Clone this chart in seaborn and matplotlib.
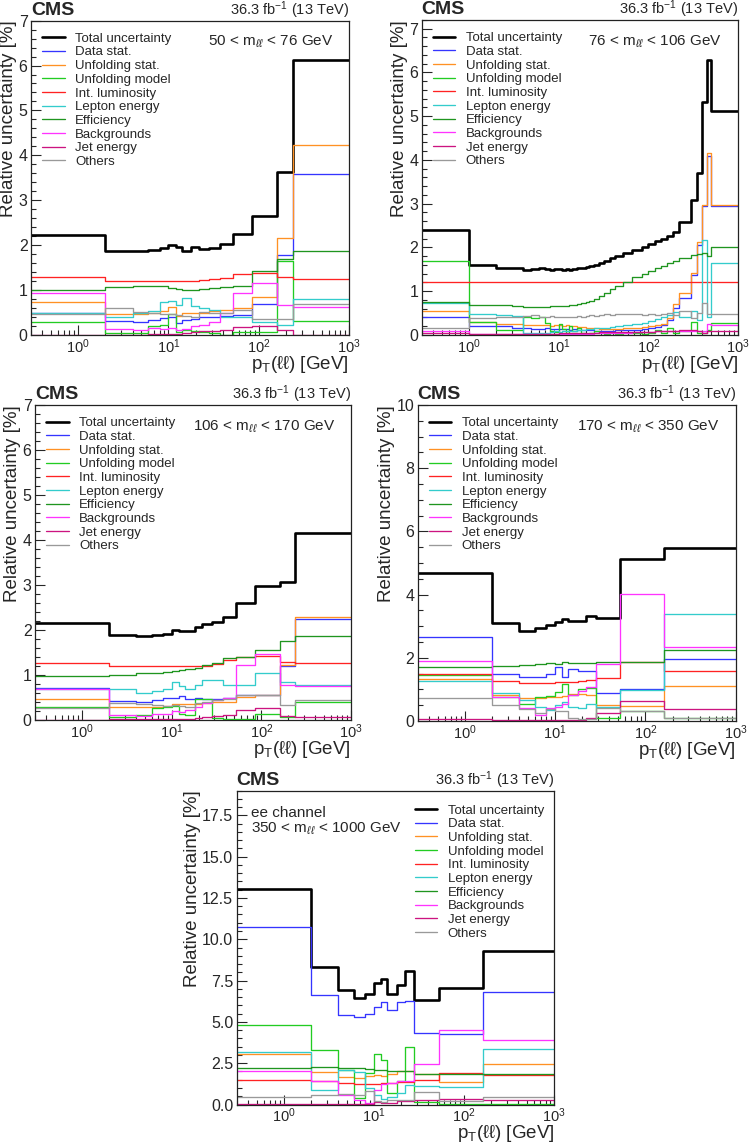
import matplotlib
matplotlib.use("Agg")
import matplotlib.pyplot as plt
import matplotlib.ticker as mticker
import seaborn as sns

sns.set_theme(style="ticks")
plt.rcParams["font.family"] = ["Liberation Sans", "DejaVu Sans"]
plt.rcParams["mathtext.fontset"] = "custom"
plt.rcParams["mathtext.rm"] = "Liberation Sans"
plt.rcParams["mathtext.it"] = "Liberation Sans:italic"
plt.rcParams["mathtext.bf"] = "Liberation Sans:bold"

sources = ["Total uncertainty", "Data stat.", "Unfolding stat.", "Unfolding model",
           "Int. luminosity", "Lepton energy", "Efficiency", "Backgrounds",
           "Jet energy", "Others"]
colors = ["black", "#3535ff", "#ff9124", "#22cc22", "#ff2222", "#33cccc",
          "#1f951f", "#ff33ff", "#cc1480", "#999999"]

# --- 50 < mll < 76 GeV ---
edges_1 = [0, 2, 4, 6, 8, 10, 12, 14, 18, 22, 28, 37, 52, 85, 160, 240, 1000]
total_1 = [2.23, 1.86, 1.87, 1.90, 1.93, 2.00, 1.97, 1.86, 1.97, 1.91, 1.93, 2.03, 2.24, 2.65, 3.62, 6.12]
stat_1 = [0.50, 0.32, 0.30, 0.33, 0.37, 0.41, 0.27, 0.33, 0.35, 0.39, 0.41, 0.42, 0.45, 0.69, 1.78, 3.58]
ustat_1 = [0.73, 0.46, 0.46, 0.48, 0.53, 0.62, 0.43, 0.48, 0.50, 0.50, 0.53, 0.55, 0.59, 0.84, 2.15, 4.22]
umodel_1 = [0.30, 0.04, 0.04, 0.20, 0.22, 0.46, 0.06, 0.11, 0.09, 0.06, 0.04, 0.01, 0.07, 0.06, 1.65, 0.31]
lumi_1 = [1.30, 1.20, 1.20, 1.20, 1.20, 1.20, 1.20, 1.20, 1.21, 1.22, 1.25, 1.27, 1.35, 1.39, 1.29, 1.25]
lepton_1 = [0.48, 0.41, 0.48, 0.53, 0.73, 0.76, 0.67, 0.82, 0.65, 0.59, 0.56, 0.41, 0.40, 0.30, 0.22, 0.80]
eff_1 = [1.01, 1.06, 1.08, 1.10, 1.08, 1.05, 1.03, 1.01, 1.00, 1.03, 1.05, 1.07, 1.10, 1.43, 1.69, 1.88]
bkg_1 = [0.93, 0.13, 0.12, 0.15, 0.14, 0.16, 0.12, 0.14, 0.19, 0.22, 0.30, 0.48, 0.93, 1.15, 0.67, 0.63]
jet_1 = [0.01, 0.01, 0.01, 0.02, 0.02, 0.03, 0.03, 0.04, 0.06, 0.08, 0.09, 0.12, 0.18, 0.20, 0.10, 0.01]
others_1 = [0.46, 0.61, 0.52, 0.50, 0.46, 0.46, 0.44, 0.43, 0.41, 0.52, 0.50, 0.50, 0.56, 0.35, 0.35, 0.70]

# --- 76 < mll < 106 GeV ---
edges_2 = [0, 1, 2, 3, 4, 5, 6, 7, 8, 9, 10, 11, 12, 13, 14, 16, 18, 20, 22, 25, 28, 32, 37, 43,
           52, 65, 85, 100, 120, 140, 160, 190, 220, 300, 350, 400, 450, 500, 1000]
total_2 = [2.41, 1.61, 1.52, 1.54, 1.48, 1.50, 1.53, 1.50, 1.48, 1.51, 1.50, 1.48, 1.50, 1.49,
           1.50, 1.52, 1.54, 1.56, 1.58, 1.61, 1.65, 1.70, 1.75, 1.81, 1.87, 1.94, 2.00, 2.08,
           2.15, 2.20, 2.27, 2.36, 2.59, 3.08, 3.71, 5.33, 6.29, 5.12]
stat_2 = [0.40, 0.21, 0.20, 0.16, 0.15, 0.14, 0.14, 0.15, 0.13, 0.14, 0.14, 0.13, 0.14, 0.12,
          0.13, 0.12, 0.12, 0.11, 0.11, 0.10, 0.10, 0.10, 0.10, 0.11, 0.11, 0.12, 0.14, 0.16,
          0.19, 0.22, 0.35, 0.62, 0.85, 1.38, 2.05, 2.95, 4.10, 2.94]
ustat_2 = [0.55, 0.30, 0.26, 0.24, 0.23, 0.22, 0.22, 0.23, 0.21, 0.22, 0.22, 0.21, 0.22, 0.20,
           0.21, 0.19, 0.18, 0.17, 0.16, 0.15, 0.14, 0.14, 0.14, 0.14, 0.15, 0.16, 0.18, 0.20,
           0.23, 0.26, 0.38, 0.70, 0.97, 1.42, 2.12, 2.98, 4.15, 2.97]
umodel_2 = [1.68, 0.30, 0.12, 0.12, 0.40, 0.38, 0.42, 0.28, 0.10, 0.06, 0.25, 0.14, 0.04, 0.20,
            0.10, 0.15, 0.05, 0.03, 0.05, 0.08, 0.05, 0.02, 0.05, 0.03, 0.05, 0.05, 0.02, 0.05,
            0.12, 0.05, 0.15, 0.05, 0.10, 0.30, 0.05, 0.05, 0.12, 0.27]
lumi_2 = [1.21] * 38
lepton_2 = [0.72, 0.48, 0.46, 0.44, 0.05, 0.04, 0.04, 0.05, 0.06, 0.08, 0.07, 0.08, 0.09, 0.08,
            0.10, 0.11, 0.12, 0.13, 0.14, 0.15, 0.16, 0.17, 0.18, 0.20, 0.22, 0.25, 0.28, 0.32,
            0.36, 0.40, 0.45, 0.52, 0.40, 0.55, 0.35, 2.18, 0.40, 1.65]
eff_2 = [0.75, 0.68, 0.68, 0.66, 0.65, 0.65, 0.65, 0.65, 0.66, 0.66, 0.66, 0.67, 0.67, 0.68,
         0.69, 0.71, 0.73, 0.75, 0.78, 0.82, 0.88, 0.95, 1.04, 1.13, 1.22, 1.32, 1.40, 1.47,
         1.53, 1.58, 1.64, 1.70, 1.76, 1.82, 1.84, 1.88, 1.80, 2.00]
bkg_2 = [0.08, 0.03, 0.03, 0.02, 0.02, 0.02, 0.02, 0.02, 0.02, 0.02, 0.02, 0.02, 0.03, 0.03,
         0.03, 0.03, 0.03, 0.03, 0.03, 0.04, 0.04, 0.04, 0.05, 0.05, 0.05, 0.06, 0.07, 0.07,
         0.08, 0.08, 0.08, 0.09, 0.10, 0.10, 0.08, 0.08, 0.25, 0.22]
jet_2 = [0.05, 0.02, 0.02, 0.02, 0.02, 0.02, 0.03, 0.03, 0.03, 0.03, 0.04, 0.04, 0.04, 0.04,
         0.05, 0.05, 0.05, 0.05, 0.05, 0.05, 0.06, 0.06, 0.06, 0.06, 0.06, 0.06, 0.06, 0.07,
         0.08, 0.08, 0.09, 0.10, 0.12, 0.12, 0.08, 0.05, 0.10, 0.08]
others_2 = [0.17, 0.38, 0.40, 0.42, 0.44, 0.45, 0.42, 0.41, 0.43, 0.41, 0.42, 0.40, 0.41, 0.42,
            0.42, 0.43, 0.42, 0.44, 0.45, 0.44, 0.46, 0.48, 0.46, 0.47, 0.49, 0.47, 0.46, 0.48,
            0.45, 0.47, 0.50, 0.45, 0.55, 0.38, 0.50, 0.72, 0.48, 0.47]

# --- 106 < mll < 170 GeV ---
edges_3 = [0, 2, 4, 6, 8, 10, 12, 14, 18, 22, 28, 37, 52, 85, 160, 240, 1000]
total_3 = [2.16, 1.89, 1.86, 1.89, 1.92, 2.00, 1.98, 1.98, 2.07, 2.14, 2.18, 2.30, 2.60, 2.97, 3.07, 4.15]
stat_3 = [0.72, 0.42, 0.41, 0.44, 0.48, 0.50, 0.53, 0.46, 0.50, 0.47, 0.46, 0.48, 0.55, 0.55, 1.19, 2.24]
ustat_3 = [0.46, 0.28, 0.28, 0.30, 0.31, 0.36, 0.36, 0.35, 0.36, 0.37, 0.41, 0.41, 0.52, 0.56, 1.22, 2.30]
umodel_3 = [0.28, 0.06, 0.11, 0.26, 0.28, 0.31, 0.13, 0.11, 0.47, 0.47, 0.04, 0.03, 0.03, 0.13, 0.07, 0.39]
lumi_3 = [1.27, 1.21, 1.19, 1.19, 1.19, 1.19, 1.19, 1.19, 1.20, 1.21, 1.24, 1.33, 1.39, 1.42, 1.30, 1.26]
lepton_3 = [0.70, 0.70, 0.61, 0.65, 0.68, 0.85, 0.75, 0.70, 0.78, 0.89, 0.89, 0.78, 0.78, 1.05, 0.85, 0.78]
eff_3 = [0.98, 1.01, 1.04, 1.05, 1.07, 1.09, 1.11, 1.13, 1.16, 1.22, 1.26, 1.37, 1.41, 1.56, 1.76, 1.87]
bkg_3 = [0.68, 0.11, 0.10, 0.13, 0.14, 0.19, 0.17, 0.22, 0.28, 0.37, 0.44, 0.48, 1.22, 1.47, 0.78, 0.76]
jet_3 = [0.01, 0.02, 0.02, 0.02, 0.02, 0.03, 0.03, 0.03, 0.04, 0.07, 0.08, 0.11, 0.22, 0.26, 0.09, 0.07]
others_3 = [0.27, 0.37, 0.36, 0.34, 0.32, 0.33, 0.31, 0.30, 0.37, 0.41, 0.44, 0.46, 0.56, 0.56, 0.33, 0.44]

# --- 170 < mll < 350 GeV ---
edges_4 = [0, 2, 4, 6, 8, 10, 12, 14, 18, 22, 28, 52, 160, 1000]
total_4 = [4.67, 3.11, 2.86, 2.93, 3.05, 3.12, 3.23, 3.15, 3.15, 3.33, 3.25, 5.11, 5.46]
stat_4 = [2.67, 1.48, 1.40, 1.38, 1.48, 1.70, 1.40, 1.63, 1.59, 1.59, 0.87, 1.00, 1.96]
ustat_4 = [1.33, 0.82, 0.72, 0.72, 0.75, 0.77, 0.80, 0.85, 0.85, 0.83, 0.50, 0.47, 1.10]
umodel_4 = [1.45, 0.75, 0.53, 0.77, 0.78, 0.93, 1.18, 0.82, 1.02, 1.05, 0.10, 0.33, 0.08]
lumi_4 = [1.48, 1.26, 1.21, 1.21, 1.21, 1.22, 1.22, 1.23, 1.25, 1.30, 1.35, 1.88, 1.58]
lepton_4 = [1.28, 0.90, 0.65, 0.45, 0.35, 0.50, 0.60, 0.45, 0.40, 0.55, 0.45, 0.99, 3.38]
eff_4 = [1.70, 1.74, 1.78, 1.80, 1.82, 1.80, 1.88, 1.82, 1.82, 1.84, 1.88, 1.88, 2.26]
bkg_4 = [1.90, 0.77, 0.40, 0.20, 0.40, 0.45, 0.55, 0.82, 0.95, 1.06, 1.80, 4.03, 2.35]
jet_4 = [0.05, 0.02, 0.02, 0.02, 0.02, 0.02, 0.02, 0.02, 0.03, 0.10, 0.24, 0.64, 0.38]
others_4 = [0.73, 0.50, 0.38, 0.25, 0.38, 0.30, 0.30, 0.10, 0.05, 0.05, 0.40, 0.30, 0.10]

# --- 350 < mll < 1000 GeV, ee channel ---
edges_5 = [0, 2, 4, 6, 8, 10, 12, 14, 18, 22, 28, 52, 160, 1000]
total_5 = [13.04, 8.30, 6.94, 6.44, 6.70, 7.34, 7.60, 6.66, 7.24, 8.06, 6.30, 7.04, 9.26]
stat_5 = [10.76, 6.60, 5.40, 5.30, 5.50, 5.90, 6.20, 5.70, 6.20, 6.26, 4.30, 4.26, 6.80]
ustat_5 = [3.08, 1.97, 1.68, 1.62, 1.75, 1.80, 1.72, 1.85, 2.00, 2.05, 1.85, 1.35, 2.45]
umodel_5 = [4.84, 3.30, 2.06, 0.40, 1.90, 3.04, 2.70, 0.70, 1.40, 3.50, 0.15, 0.05, 0.05]
lumi_5 = [1.50, 1.45, 1.30, 1.25, 1.25, 1.25, 1.30, 1.30, 1.35, 1.35, 1.50, 1.90, 1.80]
lepton_5 = [3.20, 0.90, 2.10, 1.95, 1.00, 0.55, 0.35, 0.45, 0.70, 1.20, 1.10, 1.05, 3.35]
eff_5 = [2.22, 2.25, 2.22, 2.18, 2.15, 2.10, 2.10, 2.05, 2.05, 2.00, 1.85, 1.85, 1.85]
bkg_5 = [2.00, 1.40, 0.60, 0.25, 0.10, 0.90, 1.25, 1.30, 1.40, 1.40, 2.45, 4.50, 3.90]
jet_5 = [0.02, 0.03, 0.03, 0.03, 0.05, 0.15, 0.10, 0.10, 0.20, 0.20, 0.25, 0.35, 0.30]
others_5 = [0.45, 0.55, 0.65, 0.55, 0.80, 0.20, 0.15, 0.25, 0.30, 0.30, 0.75, 0.20, 0.45]

mass_labels = [r"50 < m$_{\ell\ell}$ < 76 GeV", r"76 < m$_{\ell\ell}$ < 106 GeV",
               r"106 < m$_{\ell\ell}$ < 170 GeV", r"170 < m$_{\ell\ell}$ < 350 GeV",
               "ee channel\n" + r"350 < m$_{\ell\ell}$ < 1000 GeV"]


def draw_panel(ax, edges, series, ymax, major, minor, fmt, label, leg_xy, lab_xy, lab_ha):
    ax.set_xscale("log")
    x = [max(e, 0.01) for e in edges]
    for name, vals, col in zip(sources, series, colors):
        y = list(vals) + [vals[-1]]
        lw = 1.9 if name == "Total uncertainty" else 0.95
        sns.lineplot(x=x, y=y, ax=ax, color=col, linewidth=lw, drawstyle="steps-post",
                     errorbar=None, sort=False, legend=False)
    ax.set_xlim(0.3, 1000)
    ax.set_ylim(0, ymax)
    ax.yaxis.set_major_locator(mticker.MultipleLocator(major))
    ax.yaxis.set_minor_locator(mticker.MultipleLocator(minor))
    ax.yaxis.set_major_formatter(mticker.StrMethodFormatter(fmt))
    ax.xaxis.set_major_locator(mticker.LogLocator(base=10, numticks=10))
    ax.xaxis.set_minor_locator(mticker.LogLocator(base=10, subs=range(2, 10), numticks=20))
    ax.xaxis.set_minor_formatter(mticker.NullFormatter())
    ax.tick_params(which="both", direction="in", top=False, right=False)
    ax.tick_params(which="major", length=7, width=0.8)
    ax.tick_params(which="minor", length=3.5, width=0.8)
    ax.tick_params(axis="x", which="major", pad=1.5, labelsize=10.5)
    ax.tick_params(axis="y", which="major", pad=2.5, labelsize=11.5)
    for s in ax.spines.values():
        s.set_linewidth(0.9)
        s.set_color("#222222")
    ax.set_ylabel("Relative uncertainty [%]", loc="top", fontsize=13.5, labelpad=1)
    ax.set_xlabel("p$_{\\mathrm{T}}$(ℓℓ) [GeV]", loc="right", fontsize=13.5, labelpad=-1.5)
    ax.text(0, 1.018, "CMS", transform=ax.transAxes, ha="left", va="baseline",
            fontsize=14, fontweight="bold")
    ax.text(1, 1.018, "36.3 fb$^{-1}$ (13 TeV)", transform=ax.transAxes, ha="right",
            va="baseline", fontsize=10.5)
    ax.text(lab_xy[0], lab_xy[1], label, transform=ax.transAxes, ha=lab_ha, va="top",
            fontsize=11, linespacing=1.1)
    ax.legend(ax.get_lines()[:len(sources)], sources, loc="upper left",
              bbox_to_anchor=leg_xy, frameon=False, fontsize=9.5, labelspacing=0.11,
              handlelength=1.7, handletextpad=0.8, borderpad=0, borderaxespad=0)


fig = plt.figure(figsize=(7.5, 11.46), dpi=100)
ax1 = fig.add_axes([0.0413, 0.7077, 0.424, 0.2743])
ax2 = fig.add_axes([0.5623, 0.7077, 0.4219, 0.2749])
ax3 = fig.add_axes([0.0467, 0.3717, 0.4213, 0.2749])
ax4 = fig.add_axes([0.5569, 0.3709, 0.424, 0.2757])
ax5 = fig.add_axes([0.3156, 0.0362, 0.4235, 0.2740])

draw_panel(ax1, edges_1, [total_1, stat_1, ustat_1, umodel_1, lumi_1, lepton_1, eff_1, bkg_1, jet_1, others_1],
           7, 1, 0.2, "{x:g}", mass_labels[0], (0.035, 0.962), (0.95, 0.958), "right")
draw_panel(ax2, edges_2, [total_2, stat_2, ustat_2, umodel_2, lumi_2, lepton_2, eff_2, bkg_2, jet_2, others_2],
           7.2, 1, 0.2, "{x:g}", mass_labels[1], (0.035, 0.962), (0.95, 0.958), "right")
draw_panel(ax3, edges_3, [total_3, stat_3, ustat_3, umodel_3, lumi_3, lepton_3, eff_3, bkg_3, jet_3, others_3],
           7, 1, 0.2, "{x:g}", mass_labels[2], (0.035, 0.962), (0.95, 0.958), "right")
draw_panel(ax4, edges_4, [total_4, stat_4, ustat_4, umodel_4, lumi_4, lepton_4, eff_4, bkg_4, jet_4, others_4],
           10, 2, 0.5, "{x:g}", mass_labels[3], (0.035, 0.962), (0.95, 0.958), "right")
draw_panel(ax5, edges_5, [total_5, stat_5, ustat_5, umodel_5, lumi_5, lepton_5, eff_5, bkg_5, jet_5, others_5],
           19, 2.5, 0.5, "{x:.1f}", mass_labels[4], (0.56, 0.956), (0.045, 0.952), "left")

fig.savefig("out.png", dpi=100)
